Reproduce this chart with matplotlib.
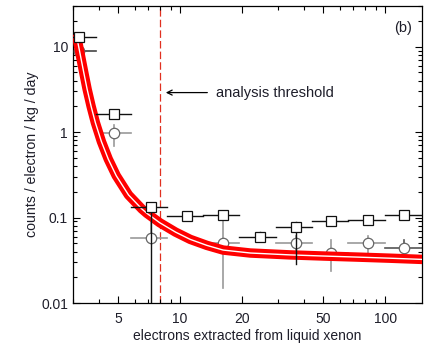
import matplotlib
matplotlib.use('Agg')
import matplotlib.pyplot as plt
from matplotlib.ticker import FixedLocator, FixedFormatter, NullFormatter, LogLocator
import numpy as np

plt.rcParams['font.family'] = ['Liberation Sans', 'DejaVu Sans']

# binned rates (squares: black, circles: grey)
bin_center = [3.2, 4.77, 7.2, 10.8, 16.2, 24.6, 36.8, 54.6, 82.6, 124]
bin_lo = [2.6, 3.9, 5.77, 8.6, 12.9, 19.4, 29.4, 44, 66, 100]
bin_hi = [3.9, 5.77, 8.6, 12.9, 19.4, 29.4, 44, 66, 100, 151]

sq_y = [12.8, 1.63, 0.133, 0.103, 0.107, 0.060, 0.077, 0.092, 0.093, 0.108]
sq_lo = [12.8, 1.5, 0.005, 0.094, 0.098, 0.053, 0.029, 0.085, 0.086, 0.100]
sq_hi = [12.8, 1.75, 0.145, 0.115, 0.116, 0.068, 0.088, 0.100, 0.101, 0.117]

ci_y = [9.0, 0.97, 0.058, None, 0.050, None, 0.051, 0.039, 0.051, 0.044]
ci_lo = [9.0, 0.68, 0.058, None, 0.015, None, 0.040, 0.024, 0.038, 0.038]
ci_hi = [9.0, 1.2, 0.11, None, 0.09, None, 0.061, 0.055, 0.061, 0.054]

# fitted curve
curve_x = [3.1, 3.15, 3.27, 3.39, 3.52, 3.68, 3.86, 4.13, 4.46, 4.88, 5.60, 6.51, 6.89,
           7.95, 9.5, 11.2, 13.5, 16.2, 22, 34.4, 50, 73, 105, 152]
curve_y = [14.0, 12.08, 7.69, 4.95, 3.16, 2.0, 1.29, 0.776, 0.484, 0.309, 0.184, 0.126, 0.112,
           0.0871, 0.0676, 0.0556, 0.0473, 0.0417, 0.0385, 0.0366, 0.0355, 0.0345, 0.0335, 0.0324]

threshold = 8.0

fig = plt.figure(figsize=(4.24, 3.44), dpi=100)
ax = fig.add_axes([0.172, 0.119, 0.823, 0.864])
ax.set_xscale('log')
ax.set_yscale('log')
ax.set_xlim(3.0, 151)
ax.set_ylim(0.01, 30)

txt = '#1e1e2a'

# threshold
ax.axvline(threshold, color='#e03020', lw=0.9, ls=(0, (6, 2.5)), zorder=1)
ax.annotate('', xy=(8.25, 2.9), xytext=(14.0, 2.9),
            arrowprops=dict(arrowstyle='->', color='black', lw=0.9, mutation_scale=9))
ax.text(15.0, 2.9, 'analysis threshold', fontsize=10.5, color=txt, va='center', ha='left')

# circles
for i in range(len(bin_center)):
    if ci_y[i] is None:
        continue
    c = '#999999' if i < 9 else '#555555'
    if i == 0:
        c = '#444444'
    ax.plot([bin_lo[i], bin_hi[i]], [ci_y[i], ci_y[i]], color=c, lw=1.2, zorder=2)
    ax.plot([bin_center[i], bin_center[i]], [ci_lo[i], ci_hi[i]], color=c, lw=1.2, zorder=2)
    ax.plot(bin_center[i], ci_y[i], 'o', ms=7.5, mfc='white', mec='#666666', mew=0.9, zorder=3)

# red fit band
ax.plot(curve_x, curve_y, color='#ff0000', lw=6.8, solid_capstyle='butt',
        solid_joinstyle='round', zorder=4)
ax.plot(curve_x, curve_y, color='white', lw=1.0, solid_capstyle='butt',
        solid_joinstyle='round', zorder=5)

# squares
for i in range(len(bin_center)):
    ax.plot([bin_lo[i], bin_hi[i]], [sq_y[i], sq_y[i]], color='#111111', lw=1.0, zorder=6)
    ax.plot([bin_center[i], bin_center[i]], [sq_lo[i], sq_hi[i]], color='#111111', lw=1.0, zorder=6)
    ax.plot(bin_center[i], sq_y[i], 's', ms=6.5, mfc='white', mec='#111111', mew=0.9, zorder=7)

ax.text(0.945, 0.925, '(b)', transform=ax.transAxes, fontsize=10.5, color=txt,
        ha='center', va='center')

# ticks
ax.xaxis.set_major_locator(FixedLocator([5, 10, 20, 50, 100]))
ax.xaxis.set_major_formatter(FixedFormatter(['5', '10', '20', '50', '100']))
ax.xaxis.set_minor_locator(LogLocator(base=10, subs=np.arange(1, 10)))
ax.xaxis.set_minor_formatter(NullFormatter())
ax.yaxis.set_major_locator(FixedLocator([0.01, 0.1, 1, 10]))
ax.yaxis.set_major_formatter(FixedFormatter(['0.01', '0.1', '1', '10']))
ax.yaxis.set_minor_locator(LogLocator(base=10, subs=np.arange(2, 10)))
ax.yaxis.set_minor_formatter(NullFormatter())
ax.tick_params(which='both', direction='in', top=True, right=True, labelsize=10,
               labelcolor=txt, width=0.8)
ax.tick_params(which='major', length=5)
ax.tick_params(which='minor', length=3)
ax.tick_params(axis='x', which='both', pad=6.5)
for s in ax.spines.values():
    s.set_linewidth(0.9)

ax.set_xlabel('electrons extracted from liquid xenon', fontsize=10, color=txt, labelpad=2)
ax.set_ylabel('counts / electron / kg / day', fontsize=10.2, color=txt, labelpad=1.5)

fig.savefig('out.png', dpi=100)
